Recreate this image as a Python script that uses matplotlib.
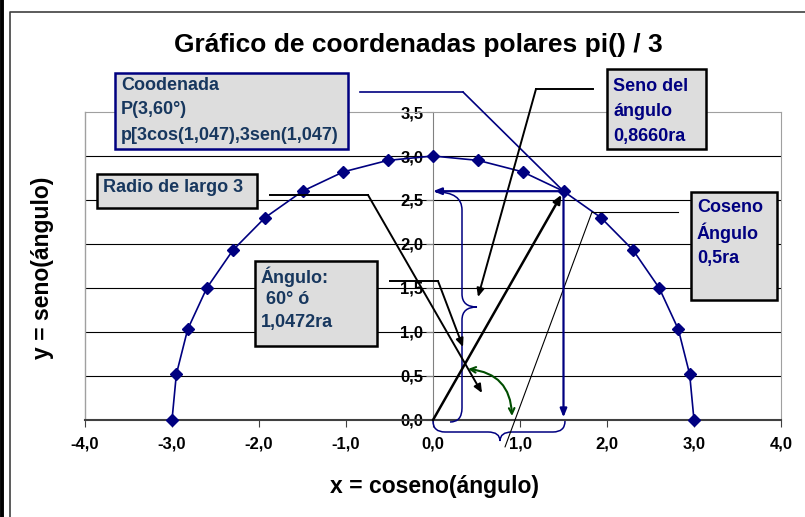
import matplotlib.pyplot as plt
from matplotlib.path import Path
from matplotlib.patches import PathPatch, Rectangle
from matplotlib.lines import Line2D

plt.rcParams['font.family'] = ['Liberation Sans', 'DejaVu Sans']
plt.rcParams['font.weight'] = 'bold'

# Puntos de la semicircunferencia de radio 3 (cada 10 grados)
x_vals = [3.00, 2.95, 2.82, 2.60, 2.30, 1.93, 1.50, 1.03, 0.52, 0.00,
          -0.52, -1.03, -1.50, -1.93, -2.30, -2.60, -2.82, -2.95, -3.00]
y_vals = [0.00, 0.52, 1.03, 1.50, 1.93, 2.30, 2.60, 2.82, 2.95, 3.00,
          2.95, 2.82, 2.60, 2.30, 1.93, 1.50, 1.03, 0.52, 0.00]
idx_punto = 6  # el punto P(3, 60°)

x_ticks = [-4, -3, -2, -1, 0, 1, 2, 3, 4]
y_ticks = [0.0, 0.5, 1.0, 1.5, 2.0, 2.5, 3.0, 3.5]

titulo = "Gráfico de coordenadas polares pi() / 3"
etiqueta_x = "x = coseno(ángulo)"
etiqueta_y = "y = seno(ángulo)"

txt_coordenada = ["Coodenada", "P(3,60°)", "p[3cos(1,047),3sen(1,047)"]
txt_seno = ["Seno del", "ángulo", "0,8660ra"]
txt_radio = ["Radio de largo 3"]
txt_angulo = ["Ángulo:", " 60° ó", "1,0472ra"]
txt_coseno = ["Coseno", "Ángulo", "0,5ra"]

AZUL = '#000080'
AZUL_TXT = '#17375E'
GRIS = '#DDDDDD'
VERDE = '#004D00'
W, H = 805, 517

fig = plt.figure(figsize=(W / 100, H / 100), dpi=100)
ax = fig.add_axes([85 / W, 97 / H, 696 / W, 308 / H])
ax.set_xlim(-4, 4)
ax.set_ylim(0, 3.5)


def px(x, y):
    # coordenadas en pixeles de la imagen -> datos
    return ax.transData.inverted().transform((x, H - y))


# marco de la figura
fig.add_artist(Line2D([1.5 / W, 1.5 / W], [0, 1], color='black', lw=2.8))
fig.add_artist(Line2D([10 / W, 10 / W, 1], [0, 1 - 12 / H, 1 - 12 / H], color='#404040', lw=1.2))

# ejes estilo Excel
for s in ['top', 'right']:
    ax.spines[s].set_color('#A0A0A0')
ax.spines['left'].set_position(('data', 0))
ax.spines['left'].set_color('#808080')
ax.spines['bottom'].set_color('#404040')
ax.spines['bottom'].set_linewidth(1.5)
ax.axvline(-4, color='#A0A0A0', lw=1, clip_on=False)
for yv in y_ticks[1:-1]:
    ax.axhline(yv, color='black', lw=0.8, zorder=1)

ax.set_xticks(x_ticks)
ax.set_xticklabels([f"{v:.1f}".replace('.', ',') for v in x_ticks])
ax.set_yticks(y_ticks)
ax.set_yticklabels([f"{v:.1f}".replace('.', ',') for v in y_ticks])
ax.tick_params(axis='x', direction='out', length=5, color='#404040', pad=7, labelsize=12)
ax.tick_params(axis='y', direction='out', length=5, color='#808080', pad=2, labelsize=12)
for lab in ax.get_xticklabels() + ax.get_yticklabels():
    lab.set_fontweight('bold')

# serie
ax.plot(x_vals, y_vals, color=AZUL, lw=1.2, marker='D', ms=6, mfc=AZUL, mec=AZUL,
        zorder=4, clip_on=False)

fig.text(418 / W, 1 - 45 / H, titulo, ha='center', va='center', fontsize=19, fontweight='bold')
fig.text(434 / W, 1 - 487 / H, etiqueta_x, ha='center', va='center', fontsize=16.5, fontweight='bold')
fig.text(43 / W, 1 - 268 / H, etiqueta_y, ha='center', va='center', fontsize=16.5,
         fontweight='bold', rotation=90)


def caja(x0, y0, x1, y1, borde, lineas, color_txt, x_txt, y_lineas):
    a, b = px(x0, y1)
    c, d = px(x1, y0)
    ax.add_patch(Rectangle((a, b), c - a, d - b, facecolor=GRIS, edgecolor=borde, lw=1.8,
                           clip_on=False, zorder=8))
    for texto, yl in zip(lineas, y_lineas):
        tx, ty = px(x_txt, yl)
        ax.text(tx, ty, texto, color=color_txt, fontsize=13, fontweight='bold',
                ha='left', va='center', clip_on=False, zorder=9)


def guia(puntos, punta, color, lw, flecha=True):
    pts = [px(*p) for p in puntos]
    ax.plot([p[0] for p in pts], [p[1] for p in pts], color=color, lw=lw, clip_on=False, zorder=6)
    estilo = '-|>,head_length=0.5,head_width=0.22' if flecha else '-'
    ax.annotate('', xy=punta, xytext=pts[-1], annotation_clip=False, zorder=6,
                arrowprops=dict(arrowstyle=estilo, color=color, lw=lw, shrinkA=0, shrinkB=0))


px_, py_ = x_vals[idx_punto], y_vals[idx_punto]

caja(115, 73, 348, 149, AZUL, txt_coordenada, AZUL_TXT, 121, [85, 110, 135])
caja(607, 69, 706, 149, 'black', txt_seno, AZUL, 613, [87, 112, 137])
caja(97, 174, 257, 208, 'black', txt_radio, AZUL_TXT, 103, [188])
caja(255, 261, 377, 346, 'black', txt_angulo, AZUL_TXT, 261, [277, 300, 323])
caja(691, 192, 777, 300, 'black', txt_coseno, AZUL, 697, [207, 233, 258])

guia([(360, 92), (463, 92)], (px_, py_), AZUL, 1.2, flecha=False)
guia([(593, 89), (536, 89)], px(478, 297), 'black', 1.4)
guia([(270, 195), (368, 195)], px(482, 393), 'black', 1.4)
guia([(390, 281), (438, 281)], px(463, 347), 'black', 1.4)
guia([(678, 212), (592, 212)], px(505, 447), 'black', 0.8, flecha=False)

# radio del origen al punto
ax.annotate('', xy=(px_, py_), xytext=(0, 0), annotation_clip=False, zorder=6,
            arrowprops=dict(arrowstyle='-|>,head_length=0.5,head_width=0.22', color='black',
                            lw=1.8, shrinkA=0, shrinkB=3))
# proyecciones sobre los ejes
ax.annotate('', xy=(0, py_), xytext=(px_, py_), annotation_clip=False, zorder=6,
            arrowprops=dict(arrowstyle='-|>,head_length=0.5,head_width=0.2', color=AZUL,
                            lw=1.6, shrinkA=0, shrinkB=0))
ax.annotate('', xy=(px_, 0.03), xytext=(px_, py_), annotation_clip=False, zorder=6,
            arrowprops=dict(arrowstyle='-|>,head_length=0.5,head_width=0.2', color=AZUL,
                            lw=1.6, shrinkA=0, shrinkB=0))

# arco del angulo
ax.annotate('', xy=px(512, 416), xytext=px(468, 369), annotation_clip=False, zorder=6,
            arrowprops=dict(arrowstyle='<->,head_length=0.4,head_width=0.2', color=VERDE,
                            lw=1.5, shrinkA=0, shrinkB=0, connectionstyle='arc3,rad=-0.43'))


def llave(p):
    # p: lista de puntos en pixeles para una llave {
    verts = [px(*q) for q in p]
    codes = [Path.MOVETO, Path.CURVE3, Path.CURVE3, Path.LINETO, Path.CURVE3, Path.CURVE3,
             Path.CURVE3, Path.CURVE3, Path.LINETO, Path.CURVE3, Path.CURVE3]
    ax.add_patch(PathPatch(Path(verts, codes), facecolor='none', edgecolor=AZUL, lw=1.1,
                           clip_on=False, zorder=5))


# llave vertical (seno) y horizontal (coseno)
llave([(436, 192), (462, 192), (462, 210), (462, 294), (462, 307), (477, 307),
       (462, 307), (462, 320), (462, 408), (462, 422), (450, 422)])
llave([(433, 421), (433, 432), (445, 432), (488, 432), (500, 432), (500, 441),
       (500, 432), (512, 432), (553, 432), (565, 432), (565, 421)])

fig.savefig('out.png', dpi=100)
